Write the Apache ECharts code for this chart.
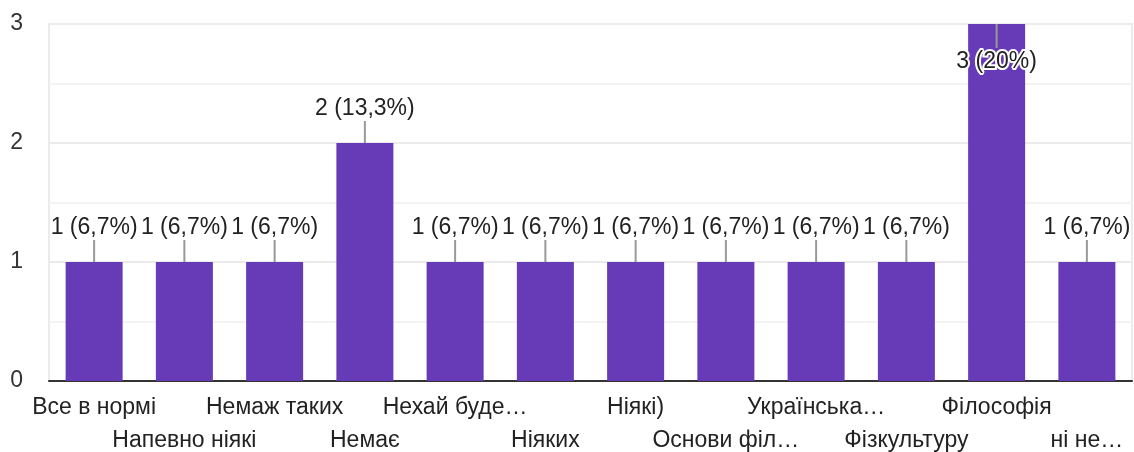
<!DOCTYPE html>
<html>
<head>
<meta charset="utf-8">
<script src="https://cdn.jsdelivr.net/npm/echarts@6/dist/echarts.min.js"></script>
<style>html,body{margin:0;padding:0;background:#fff;}#c{width:1134px;height:452px;}</style>
</head>
<body>
<div id="c"></div>
<script>
const categories = ['Все в нормі','Напевно ніякі','Немаж таких','Немає','Нехай буде…','Ніяких','Ніякі)','Основи філ…','Українська…','Фізкультуру','Філософія','ні не…'];
const values = [1,1,1,2,1,1,1,1,1,1,3,1];
const yTicks = [0,1,2,3];

const total = values.reduce((a,b)=>a+b,0);
function labelFor(v){
  let p = (v/total*100).toFixed(1);
  if (p.endsWith('.0')) p = p.slice(0,-2);
  return v + ' (' + p.replace('.', ',') + '%)';
}
const FONT = "'Liberation Sans', Arial, sans-serif";
const chart = echarts.init(document.getElementById('c'), null, {renderer:'canvas'});
chart.setOption({
  animation:false,
  grid:{left:49,right:2,top:24,bottom:71,containLabel:false,outerBoundsMode:'none',
    show:true,borderColor:'#ebebeb',borderWidth:2,backgroundColor:'transparent'},
  xAxis:{
    type:'category', data:categories,
    axisLine:{lineStyle:{color:'#333',width:2}},
    axisTick:{show:false},
    axisLabel:{interval:0,hideOverlap:false,color:'#222',fontSize:23,fontFamily:FONT,lineHeight:33,margin:10,
      formatter:(v,i)=> (i%2===1 ? '\n'+v : v)}
  },
  yAxis:{
    type:'value', min:0, max:3, interval:0.5,
    axisLine:{show:false}, axisTick:{show:false},
    splitLine:{lineStyle:{color:['#ebebeb','#f3f3f3'],width:2}},
    axisLabel:{color:'#333',fontSize:23,fontFamily:FONT,margin:26,align:'right',
      formatter:v=> (yTicks.indexOf(v)>=0 ? String(v) : '')}
  },
  series:[
    {type:'bar',data:values,barWidth:57,itemStyle:{color:'#673ab7'},silent:true},
    {type:'custom',clip:false,z:5,silent:true,
      data:values.map((v,i)=>[i,v]),
      encode:{x:0,y:1},
      renderItem:(params,api)=>{
        const i=api.value(0), v=api.value(1);
        const p=api.coord([i,v]);
        const top=params.coordSys.y;
        const flip = p[1]-40 < top;
        let y1,y2,ty;
        if(!flip){ y1=p[1]; y2=p[1]-22; ty=p[1]-34; }
        else { y1=p[1]; y2=p[1]+24; ty=p[1]+38; }
        return {type:'group',children:[
          {type:'line',shape:{x1:p[0],y1:y1,x2:p[0],y2:y2},style:{stroke:'#999',lineWidth:2}},
          {type:'text',style:{text:labelFor(v),x:p[0],y:ty,align:'center',verticalAlign:'middle',
            fontSize:23,fontFamily:FONT,fill:'#222',stroke:flip?'#fff':null,lineWidth:flip?4:0}}
        ]};
      }
    }
  ]
});
</script>
</body>
</html>
